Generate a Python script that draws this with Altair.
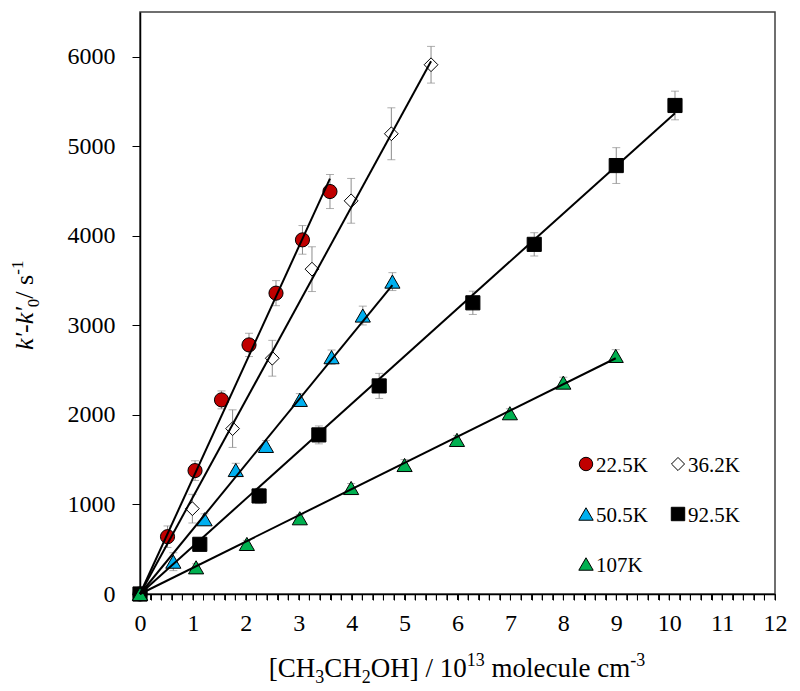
import altair as alt
import pandas as pd

# ---------------- data ----------------
series_names = ["22.5K", "36.2K", "50.5K", "92.5K", "107K"]

red_x = [0, 0.52, 1.04, 1.54, 2.06, 2.57, 3.07, 3.59]
red_y = [0, 640, 1378, 2168, 2782, 3360, 3955, 4495]
red_err = [0, 120, 110, 100, 130, 140, 160, 190]

dia_x = [0, 0.99, 1.75, 2.50, 3.25, 3.99, 4.75, 5.50]
dia_y = [0, 953, 1847, 2633, 3628, 4391, 5140, 5911]
dia_err = [0, 160, 210, 200, 250, 250, 290, 205]

blue_x = [0, 0.63, 1.22, 1.81, 2.38, 3.02, 3.62, 4.21, 4.77]
blue_y = [0, 361, 835, 1385, 1654, 2168, 2645, 3110, 3489]
blue_err = [0, 100, 60, 75, 60, 70, 80, 105, 100]

sq_x = [0, 1.13, 2.25, 3.38, 4.52, 6.29, 7.45, 9.00, 10.11]
sq_y = [0, 555, 1095, 1777, 2324, 3252, 3905, 4785, 5456]
sq_err = [0, 60, 85, 100, 140, 130, 130, 200, 160]

grn_x = [0, 1.06, 2.02, 3.02, 3.99, 5.00, 5.99, 6.99, 8.00, 8.99]
grn_y = [0, 298, 559, 846, 1184, 1441, 1721, 2019, 2361, 2659]
grn_err = [0, 40, 40, 40, 50, 60, 50, 50, 60, 70]

# end points of the fitted straight lines (all start at the origin)
fit_end_x = [3.59, 5.50, 4.77, 10.11, 8.99]
fit_end_y = [4640, 5950, 3450, 5370, 2633]

x_tick_labels = list(range(0, 13))
y_tick_labels = [0, 1000, 2000, 3000, 4000, 5000, 6000]

# ---------------- styling ----------------
FONT = "Liberation Serif"
W, H = 635, 582
ERR_COLOR = "#8c8c8c"

styles = [
    ("circle", "#C00000", 200),
    ("diamond", "#FFFFFF", 190),
    ("triangle-up", "#00B0F0", 230),
    ("square", "#000000", 200),
    ("triangle-up", "#00B050", 230),
]
all_x = [red_x, dia_x, blue_x, sq_x, grn_x]
all_y = [red_y, dia_y, blue_y, sq_y, grn_y]
all_e = [red_err, dia_err, blue_err, sq_err, grn_err]

xs = alt.Scale(domain=[0, 12], nice=False, zero=False)
ys = alt.Scale(domain=[0, 6500], nice=False, zero=False)

minor_vals = [round(i * 0.2, 1) for i in range(0, 61)]
xaxis = alt.Axis(values=minor_vals, title=None, grid=False, tickSize=6,
                 labelExpr="datum.value % 1 === 0 ? format(datum.value, 'd') : ''",
                 labelOverlap=False, labelFlush=False, labelPadding=11)
yaxis = alt.Axis(values=y_tick_labels, title=None, grid=False, tickSize=8,
                 format="d", labelPadding=17, labelOverlap=False, labelFlush=False)


def X(field):
    return alt.X(field, scale=xs, axis=xaxis)


def Y(field):
    return alt.Y(field, scale=ys, axis=yaxis)


one = pd.DataFrame({"a": [0]})
layers = []

# minor tick comb on the x axis (drawn through the x scale)
tick_df = pd.DataFrame({"x": minor_vals})
layers.append(alt.Chart(tick_df).mark_rule(color="black", strokeWidth=1).encode(
    x=X("x:Q"), y=alt.value(H), y2=alt.value(H + 6)))

# error bars
err_rows, cap_rows = [], []
for name, xx, yy, ee in zip(series_names, all_x, all_y, all_e):
    for x, y, e in zip(xx, yy, ee):
        if e > 0:
            err_rows.append({"series": name, "x": x, "lo": y - e, "hi": y + e})
            cap_rows.append({"series": name, "x": x, "cy": y - e})
            cap_rows.append({"series": name, "x": x, "cy": y + e})
err_df = pd.DataFrame(err_rows)
cap_df = pd.DataFrame(cap_rows)

layers.append(alt.Chart(err_df).mark_rule(color=ERR_COLOR, strokeWidth=1).encode(
    x=X("x:Q"), y=Y("lo:Q"), y2="hi:Q"))
layers.append(alt.Chart(cap_df).mark_tick(orient="horizontal", size=8, thickness=1,
                                          color=ERR_COLOR).encode(
    x=X("x:Q"), y=Y("cy:Q")))

# markers
for name, xx, yy, (shape, fill, size) in zip(series_names, all_x, all_y, styles):
    df = pd.DataFrame({"x": xx, "y": yy})
    layers.append(alt.Chart(df).mark_point(shape=shape, filled=True, fill=fill,
                                           stroke="black", strokeWidth=1, size=size,
                                           opacity=1).encode(
        x=X("x:Q"), y=Y("y:Q")))

# fitted lines
line_rows = []
for name, ex, ey in zip(series_names, fit_end_x, fit_end_y):
    line_rows.append({"series": name, "x": 0, "y": 0})
    line_rows.append({"series": name, "x": ex, "y": ey})
line_df = pd.DataFrame(line_rows)
layers.append(alt.Chart(line_df).mark_line(color="black", strokeWidth=2).encode(
    x=X("x:Q"), y=Y("y:Q"), detail="series:N"))

# legend (pixel positions inside the plot area)
leg_sym_x = [446, 538]
leg_row_y = [452, 502, 552]
for i, (name, (shape, fill, size)) in enumerate(zip(series_names, styles)):
    col, row = i % 2, i // 2
    sx, sy = leg_sym_x[col], leg_row_y[row]
    layers.append(alt.Chart(one).mark_point(shape=shape, filled=True, fill=fill,
                                            stroke="black", strokeWidth=1,
                                            size=size * 0.9, opacity=1).encode(
        x=alt.value(sx), y=alt.value(sy)))
    layers.append(alt.Chart(one).mark_text(text=name, font=FONT, fontSize=21,
                                           align="left", baseline="alphabetic",
                                           color="black").encode(
        x=alt.value(sx + 10), y=alt.value(sy + 8)))

# ---------------- axis titles built from pieces ----------------
W_REG = {" ": 250, "[": 333, "]": 333, "/": 278, "C": 667, "H": 722, "O": 722,
         "m": 778, "o": 500, "l": 278, "e": 444, "c": 444, "u": 500, "-": 333,
         "'": 180, "s": 389, "k": 500}
W_IT = {"k": 444, "'": 214, "-": 333}


def tw(s, size, italic=False):
    table = W_IT if italic else W_REG
    return sum(table.get(ch, 500) for ch in s) * size / 1000.0


def add_piece(t, s, px, py, angle=0, italic=False):
    lead = len(t) - len(t.lstrip(" "))
    txt = t.strip(" ")
    off = tw(" " * lead, s)
    kw = dict(text=txt, font=FONT, fontSize=s, align="left", baseline="alphabetic",
              color="black", fontStyle="italic" if italic else "normal")
    if angle:
        kw["angle"] = angle
        px2, py2 = px, py - off
    else:
        px2, py2 = px + off, py
    layers.append(alt.Chart(one).mark_text(**kw).encode(
        x=alt.value(px2), y=alt.value(py2)))


# x title: (text, font size, baseline shift)
x_title = [("[CH", 27, 0), ("3", 18, 6), ("CH", 27, 0), ("2", 18, 6),
           ("OH] / 10", 27, 0), ("13", 18, -11), (" molecule cm", 27, 0),
           ("-3", 18, -11)]
total = sum(tw(t, s) for t, s, _ in x_title)
cx = 317 - total / 2
base_y = 665
for t, s, sh in x_title:
    add_piece(t, s, cx, base_y + sh)
    cx += tw(t, s)

# y title (rotated, reads bottom to top): (text, size, shift, italic)
y_title = [("k'-k'", 26, 0, True), ("0", 17, 6, False), ("/ s", 26, 0, False),
           ("-1", 17, -10, False)]
cy = 338
base_x = -107
for t, s, sh, it in y_title:
    add_piece(t, s, base_x + sh, cy, angle=270, italic=it)
    cy -= tw(t, s, it)

chart = alt.layer(*layers).properties(
    width=W, height=H,
    padding={"left": 132, "top": 4, "right": 17, "bottom": 95},
    autosize=alt.AutoSizeParams(type="none"),
).configure_view(stroke="#404040", strokeWidth=1.5).configure_axis(
    labelFont=FONT, labelFontSize=24, labelColor="black",
    domainColor="black", domainWidth=1.5, tickColor="black", tickWidth=1,
)

chart.save("out.html", embed_options={"renderer": "svg", "actions": False})
